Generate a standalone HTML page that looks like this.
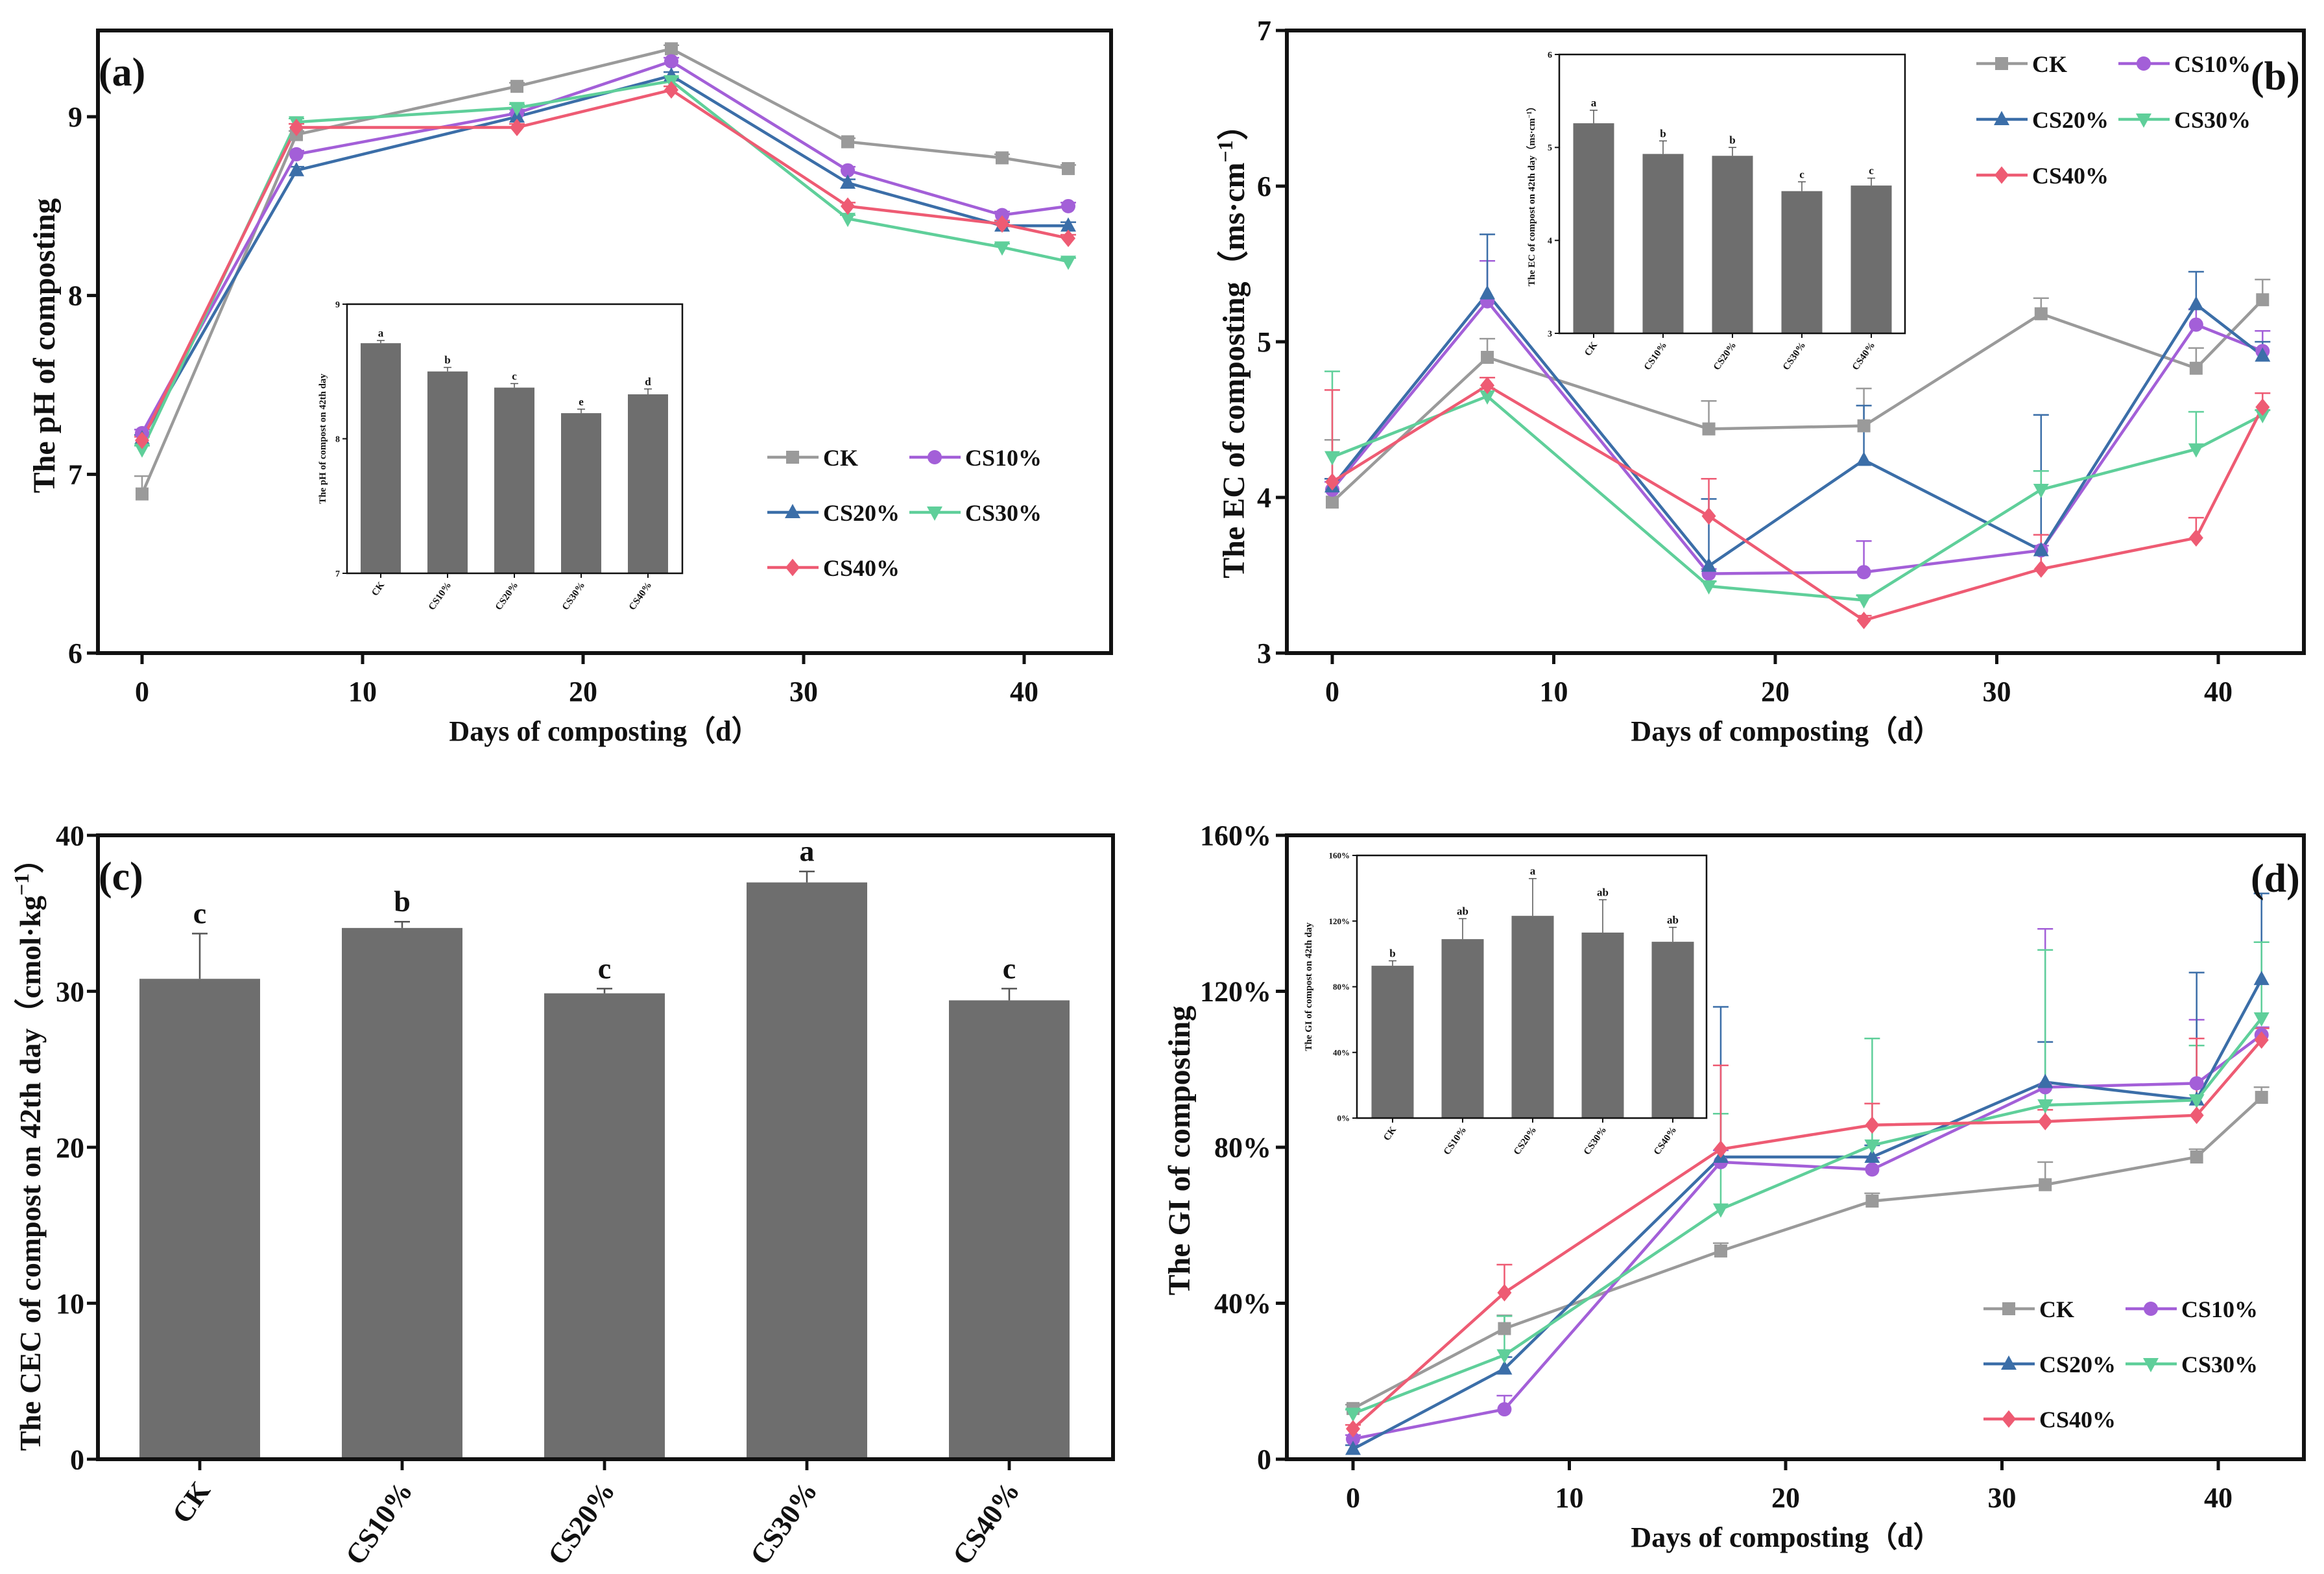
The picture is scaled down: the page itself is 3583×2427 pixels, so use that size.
<!DOCTYPE html>
<html><head><meta charset="utf-8"><style>
html,body{margin:0;padding:0;background:#fff}
svg{display:block}
text{font-family:"Liberation Serif",serif;font-weight:bold;fill:#111}
</style></head><body>
<svg id="fig" xmlns="http://www.w3.org/2000/svg" width="3583" height="2427" viewBox="0 0 3583 2427"></svg>
<script>
// ---------- data ----------
const days=[0,7,17,24,32,39,42];
const seriesNames=['CK','CS10%','CS20%','CS30%','CS40%'];
const seriesColors=['#9a9a9a','#a35fd8','#3b6ea8','#5fcf9a','#ee5b73'];
const markerShapes=['square','circle','triUp','triDown','diamond'];
// (a) pH
const phCK=[6.89,8.90,9.17,9.38,8.86,8.77,8.71];
const phCS10=[7.23,8.79,9.02,9.31,8.70,8.45,8.50];
const phCS20=[7.20,8.70,9.00,9.23,8.63,8.39,8.39];
const phCS30=[7.14,8.97,9.05,9.20,8.43,8.27,8.19];
const phCS40=[7.19,8.94,8.94,9.15,8.50,8.40,8.32];
const phErrCK=[0.10,0.02,0.02,0.02,0.02,0.02,0.02];
const phErrCS=[0.02,0.02,0.02,0.02,0.02,0.02,0.02];
const phInset=[8.71,8.50,8.38,8.19,8.33];
const phInsetErr=[0.02,0.03,0.03,0.03,0.04];
const phInsetLetters=['a','b','c','e','d'];
const phTicks=[6,7,8,9];
const phInsetTicks=[7,8,9];
// (b) EC
const ecCK=[3.97,4.90,4.44,4.46,5.18,4.83,5.27];
const ecCS10=[4.05,5.26,3.51,3.52,3.66,5.11,4.94];
const ecCS20=[4.07,5.31,3.56,4.24,3.66,5.24,4.91];
const ecCS30=[4.26,4.65,3.43,3.34,4.05,4.31,4.53];
const ecCS40=[4.10,4.72,3.88,3.21,3.54,3.74,4.58];
const ecErrCK=[0.40,0.12,0.18,0.24,0.10,0.13,0.13];
const ecErrCS10=[0.05,0.26,0.03,0.20,0.03,0.10,0.13];
const ecErrCS20=[0.05,0.38,0.43,0.35,0.87,0.21,0.09];
const ecErrCS30=[0.55,0.05,0.03,0.03,0.12,0.24,0.03];
const ecErrCS40=[0.59,0.05,0.24,0.03,0.22,0.13,0.09];
const ecInset=[5.26,4.93,4.91,4.53,4.59];
const ecInsetErr=[0.14,0.14,0.09,0.10,0.08];
const ecInsetLetters=['a','b','b','c','c'];
const ecTicks=[3,4,5,6,7];
const ecInsetTicks=[3,4,5,6];
// (c) CEC
const cecValues=[30.8,34.06,29.87,36.98,29.42];
const cecErr=[2.9,0.4,0.3,0.7,0.75];
const cecLetters=['c','b','c','a','c'];
const cecTicks=[0,10,20,30,40];
// (d) GI
const giCK=[13.0,33.5,53.4,66.2,70.4,77.5,92.8];
const giCS10=[5.2,12.8,76.2,74.3,95.4,96.4,108.8];
const giCS20=[2.6,23.2,77.5,77.5,96.7,92.2,123.1];
const giCS30=[11.7,26.7,64.1,80.5,90.8,92.1,113.1];
const giCS40=[7.8,42.7,79.5,85.7,86.6,88.2,107.5];
const giErrCK=[1,3.4,2,2,5.8,2,2.6];
const giErrCS10=[1,3.5,3,3,40.6,16.3,2];
const giErrCS20=[1,3,38.5,3,10.3,32.6,22];
const giErrCS30=[1,10,24.5,27.4,39.8,14,19.5];
const giErrCS40=[1,7.2,21.5,5.5,3,19.7,3];
const giInset=[92.8,109,123.2,113,107.4];
const giInsetErr=[3,12.5,22.7,20,8.8];
const giInsetLetters=['b','ab','a','ab','ab'];
const giTicks=[0,40,80,120,160];
const dayTicks=[0,10,20,30,40];

// ---------- helpers ----------
const NS='http://www.w3.org/2000/svg';
const svg=document.getElementById('fig');
function mk(tag,attrs,parent,txt){const e=document.createElementNS(NS,tag);for(const k in attrs)e.setAttribute(k,attrs[k]);if(txt!==undefined)e.textContent=txt;(parent||svg).appendChild(e);return e;}
function lin(d0,d1,r0,r1){return v=>r0+(v-d0)*(r1-r0)/(d1-d0);}
function marker(g,shape,x,y,s,color){
  let e;
  if(shape==='square')e=mk('rect',{x:x-s,y:y-s,width:2*s,height:2*s,fill:color},g);
  else if(shape==='circle')e=mk('circle',{cx:x,cy:y,r:s*1.1,fill:color},g);
  else if(shape==='triUp')e=mk('polygon',{points:`${x},${y-s*1.3} ${x-s*1.2},${y+s*0.9} ${x+s*1.2},${y+s*0.9}`,fill:color},g);
  else if(shape==='triDown')e=mk('polygon',{points:`${x},${y+s*1.3} ${x-s*1.2},${y-s*0.9} ${x+s*1.2},${y-s*0.9}`,fill:color},g);
  else e=mk('polygon',{points:`${x},${y-s*1.35} ${x+s*1.1},${y} ${x},${y+s*1.35} ${x-s*1.1},${y}`,fill:color},g);
  
  
}
function frame(g,L,T,R,B,w){
  const r=mk('rect',{x:L,y:T,width:R-L,height:B-T,fill:'none',stroke:'#111','stroke-width':w},g);
  
  
}
function lineChart(name,cfg){
  const g=mk('g',{},svg);
  
  
  const X=lin(0,40,cfg.x0,cfg.x40), Y=lin(cfg.vmin,cfg.vmax,cfg.B,cfg.yTop);
  cfg.series.forEach((s,i)=>{
    s.forEach((v,j)=>{
      const x=X(days[j]), y1=Y(v), y2=Y(v+cfg.errs[i][j]);
      const eb=mk('g',{stroke:seriesColors[i],'stroke-width':2.5},g);
      
      
      mk('line',{x1:x,y1:y1,x2:x,y2:y2},eb);
      mk('line',{x1:x-12,y1:y2,x2:x+12,y2:y2},eb);
    });
  });
  cfg.series.forEach((s,i)=>{
    const pts=s.map((v,j)=>X(days[j])+','+Y(v)).join(' ');
    const pl=mk('polyline',{points:pts,fill:'none',stroke:seriesColors[i],'stroke-width':4.5},g);
    
    
  });
  cfg.series.forEach((s,i)=>{s.forEach((v,j)=>marker(g,markerShapes[i],X(days[j]),Y(v),10,seriesColors[i]));});
  frame(g,cfg.L,cfg.T,cfg.R,cfg.B,6);
  dayTicks.forEach(t=>{
    const x=X(t);
    mk('line',{x1:x,y1:cfg.B,x2:x,y2:cfg.B+17,stroke:'#111','stroke-width':5},g);
    const tl=mk('text',{x:x,y:cfg.B+74,'font-size':44,'text-anchor':'middle'},g,String(t));
    
    
  });
  cfg.yTicks.forEach((t,k)=>{
    const y=Y(t);
    mk('line',{x1:cfg.L-17,y1:y,x2:cfg.L,y2:y,stroke:'#111','stroke-width':5},g);
    const tl=mk('text',{x:cfg.L-24,y:y+15,'font-size':44,'text-anchor':'end'},g,cfg.yLabels[k]);
    
    
  });
  const xt=mk('text',{x:(cfg.L+cfg.R)/2+cfg.xtShift,y:cfg.B+135,'font-size':44,'text-anchor':'middle'},g,'Days of composting（d）');
  
  
  const yt=mk('text',{x:0,y:0,'font-size':cfg.ytSize,'text-anchor':'middle',transform:`translate(${cfg.ytX},${cfg.ytY}) rotate(-90)`},g);
  
  
  yt.innerHTML=cfg.yTitle;
  const lg=mk('g',{},g);
  
  
  const pos=[[0,0],[1,0],[0,1],[1,1],[0,2]];
  seriesNames.forEach((n,i)=>{
    const lx=cfg.legX+pos[i][0]*219, ly=cfg.legY+pos[i][1]*cfg.legDy;
    const e=mk('g',{},lg);
    
    
    mk('line',{x1:lx,y1:ly,x2:lx+79,y2:ly,stroke:seriesColors[i],'stroke-width':4.5},e);
    marker(e,markerShapes[i],lx+39,ly,10,seriesColors[i]);
    mk('text',{x:lx+86,y:ly+13,'font-size':36},e,n);
  });
  const pl=mk('text',{x:cfg.panelX,y:cfg.panelY,'font-size':62},g,cfg.panel);
  
  
  return g;
}
function barChart(name,parent,cfg){
  const g=mk('g',{},parent);
  
  
  const Y=lin(cfg.vmin,cfg.vmax,cfg.B,cfg.T);
  const X=i=>cfg.c0+i*cfg.step;
  cfg.values.forEach((v,i)=>{
    const b=mk('rect',{x:X(i)-cfg.bw/2,y:Y(v),width:cfg.bw,height:cfg.B-Y(v),fill:'#6e6e6e'},g);
    
    
    const ye=Y(v+cfg.errs[i]);
    const eb=mk('g',{stroke:'#555','stroke-width':cfg.ew},g);
    
    
    mk('line',{x1:X(i),y1:Y(v),x2:X(i),y2:ye},eb);
    mk('line',{x1:X(i)-cfg.cap,y1:ye,x2:X(i)+cfg.cap,y2:ye},eb);
    const lt=mk('text',{x:X(i),y:ye-cfg.fs*0.35,'font-size':cfg.fs,'text-anchor':'middle'},g,cfg.letters[i]);
    
    
  });
  frame(g,cfg.L,cfg.T,cfg.R,cfg.B,cfg.fw);
  cfg.ticks.forEach((t,k)=>{
    const y=Y(t);
    mk('line',{x1:cfg.L-cfg.tl,y1:y,x2:cfg.L,y2:y,stroke:'#111','stroke-width':cfg.fw*0.8},g);
    const tl=mk('text',{x:cfg.L-cfg.tl-4,y:y+cfg.tfs*0.35,'font-size':cfg.tfs,'text-anchor':'end'},g,cfg.tickLabels[k]);
    
    
  });
  seriesNames.forEach((n,i)=>{
    mk('line',{x1:X(i),y1:cfg.B,x2:X(i),y2:cfg.B+cfg.tl,stroke:'#111','stroke-width':cfg.fw*0.8},g);
    const tl=mk('text',{x:0,y:0,'font-size':cfg.xfs,'text-anchor':'end',transform:`translate(${X(i)+cfg.xfs*0.4},${cfg.B+cfg.tl+cfg.xfs*0.7}) rotate(-55)`},g,n);
    
    
  });
  const yt=mk('text',{x:0,y:0,'font-size':cfg.ytSize,'text-anchor':'middle',transform:`translate(${cfg.ytX},${(cfg.T+cfg.B)/2}) rotate(-90)`},g);
  
  
  yt.innerHTML=cfg.yTitle;
  return g;
}

// ---------- panel (a) ----------
const ga=lineChart('panel-a-ph-chart',{x0:219,x40:1579,vmin:6,vmax:9,B:1007,yTop:180,L:151,T:47,R:1713,
  series:[phCK,phCS10,phCS20,phCS30,phCS40],errs:[phErrCK,phErrCS,phErrCS,phErrCS,phErrCS],
  yTicks:phTicks,yLabels:phTicks.map(String),xtShift:0,yTitle:'The pH of composting',ytX:84,ytY:533,ytSize:48,
  legX:1183,legY:705,legDy:85,panel:'(a)',panelX:152,panelY:132});
barChart('panel-a-inset',ga,{values:phInset,errs:phInsetErr,letters:phInsetLetters,vmin:7,vmax:9,L:535,T:469,R:1052,B:884,
  c0:587,step:103,bw:62,ew:1.5,cap:6,fs:17,fw:2.5,tl:7,ticks:phInsetTicks,tickLabels:phInsetTicks.map(String),tfs:14,xfs:15,
  yTitle:'The pH of compost on 42th day',ytX:502,ytSize:15});

// ---------- panel (b) ----------
const gb=lineChart('panel-b-ec-chart',{x0:2054,x40:3420,vmin:3,vmax:7,B:1007,yTop:47,L:1984,T:47,R:3552,
  series:[ecCK,ecCS10,ecCS20,ecCS30,ecCS40],errs:[ecErrCK,ecErrCS10,ecErrCS20,ecErrCS30,ecErrCS40],
  yTicks:ecTicks,yLabels:ecTicks.map(String),xtShift:-14,yTitle:'The EC of composting（ms·cm<tspan baseline-shift="super" font-size="32">−1</tspan>）',ytX:1918,ytY:530,ytSize:48,
  legX:3047,legY:98,legDy:86,panel:'(b)',panelX:3470,panelY:138});
barChart('panel-b-inset',gb,{values:ecInset,errs:ecInsetErr,letters:ecInsetLetters,vmin:3,vmax:6,L:2404,T:84,R:2937,B:514,
  c0:2457,step:107,bw:63,ew:1.5,cap:6,fs:17,fw:2.5,tl:7,ticks:ecInsetTicks,tickLabels:ecInsetTicks.map(String),tfs:14,xfs:15,
  yTitle:'The EC of compost on 42th day（ms·cm<tspan baseline-shift="super" font-size="10">−1</tspan>）',ytX:2366,ytSize:15});

// ---------- panel (c) ----------
const gc=barChart('panel-c-cec-chart',svg,{values:cecValues,errs:cecErr,letters:cecLetters,vmin:0,vmax:40,L:151,T:1288,R:1716,B:2250,
  c0:308,step:312,bw:186,ew:2.5,cap:12,fs:46,fw:6,tl:17,ticks:cecTicks,tickLabels:cecTicks.map(String),tfs:44,xfs:44,
  yTitle:'The CEC of compost on 42th day（cmol·kg<tspan baseline-shift="super" font-size="32">−1</tspan>）',ytX:62,ytSize:46});
const pc=mk('text',{x:152,y:1372,'font-size':62},gc,'(c)');



// ---------- panel (d) ----------
const gd=lineChart('panel-d-gi-chart',{x0:2086,x40:3420,vmin:0,vmax:160,B:2250,yTop:1288,L:1984,T:1288,R:3552,
  series:[giCK,giCS10,giCS20,giCS30,giCS40],errs:[giErrCK,giErrCS10,giErrCS20,giErrCS30,giErrCS40],
  yTicks:giTicks,yLabels:giTicks.map(t=>t===0?'0':t+'%'),xtShift:-14,yTitle:'The GI of composting',ytX:1834,ytY:1774,ytSize:48,
  legX:3058,legY:2018,legDy:85,panel:'(d)',panelX:3470,panelY:1375});
barChart('panel-d-inset',gd,{values:giInset,errs:giInsetErr,letters:giInsetLetters,vmin:0,vmax:160,L:2092,T:1319,R:2631,B:1724,
  c0:2147,step:108,bw:65,ew:1.5,cap:6,fs:17,fw:2.5,tl:7,ticks:giTicks,tickLabels:giTicks.map(t=>t+'%'),tfs:13,xfs:15,
  yTitle:'The GI of compost on 42th day',ytX:2022,ytSize:15});
</script>
</body></html>
